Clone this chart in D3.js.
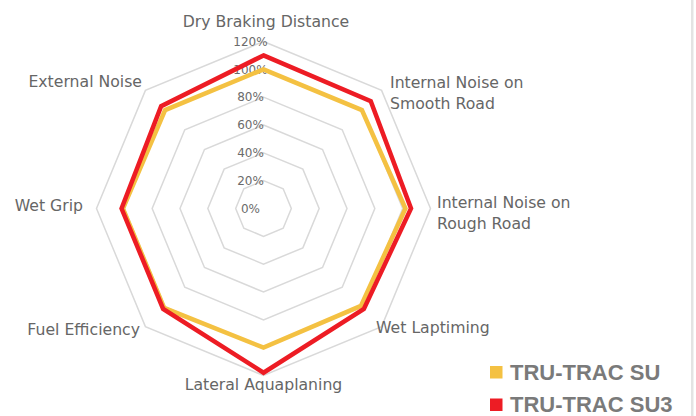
<!DOCTYPE html>
<html>
<head>
<meta charset="utf-8">
<script src="https://cdn.jsdelivr.net/npm/d3@7"></script>
<style>
  html, body { margin: 0; padding: 0; background: #ffffff; }
  svg { display: block; }
</style>
</head>
<body>
<svg id="chart" width="696" height="416"></svg>
<script>
// ---- data ----
const categories = [
  "Dry Braking Distance",
  "Internal Noise on Smooth Road",
  "Internal Noise on Rough Road",
  "Wet Laptiming",
  "Lateral Aquaplaning",
  "Fuel Efficiency",
  "Wet Grip",
  "External Noise"
];
const seriesNames = ["TRU-TRAC SU", "TRU-TRAC SU3"];
const suValues  = [1.00, 1.00, 1.02, 0.99, 1.00, 1.01, 1.01, 1.00];
const su3Values = [1.10, 1.09, 1.06, 1.02, 1.18, 1.02, 1.02, 1.04];
const tickValues = [0, 0.2, 0.4, 0.6, 0.8, 1.0, 1.2];
const tickLabels = ["0%", "20%", "40%", "60%", "80%", "100%", "120%"];
const seriesColors = ["#f4c142", "#ed1c24"];

// label lines (wrapped like the original)
const labelLines = [
  ["Dry Braking Distance"],
  ["Internal Noise on", "Smooth Road"],
  ["Internal Noise on", "Rough Road"],
  ["Wet Laptiming"],
  ["Lateral Aquaplaning"],
  ["Fuel Efficiency"],
  ["Wet Grip"],
  ["External Noise"]
];

// ---- layout ----
const svg = d3.select("#chart");
const cx = 263.5, cy = 208.5;
const R = 167;

const r = d3.scaleLinear().domain([0, 1.2]).range([0, R]);
const angle = d3.scaleLinear().domain([0, categories.length]).range([0, 2 * Math.PI]);

const g = svg.append("g").attr("transform", `translate(${cx},${cy})`);

// grid rings (octagons)
const ringLine = d3.lineRadial()
  .angle((d, i) => angle(i))
  .radius(d => r(d))
  .curve(d3.curveLinearClosed);

g.selectAll("path.ring")
  .data(tickValues.filter(v => v > 0))
  .join("path")
  .attr("class", "ring")
  .attr("d", v => ringLine(categories.map(() => v)))
  .attr("fill", "none")
  .attr("stroke", "#d9d9d9")
  .attr("stroke-width", 1.5);

// tick labels
g.selectAll("text.tick")
  .data(tickValues)
  .join("text")
  .attr("class", "tick")
  .attr("x", -13)
  .attr("y", v => -r(v))
  .attr("dy", "0.35em")
  .attr("text-anchor", "middle")
  .attr("font-family", "DejaVu Sans, sans-serif")
  .attr("font-size", 12)
  .attr("fill", "#6b6b6b")
  .text((v, i) => tickLabels[i]);

// series
const seriesLine = d3.lineRadial()
  .angle((d, i) => angle(i))
  .radius(d => r(d))
  .curve(d3.curveLinearClosed);

[suValues, su3Values].forEach((vals, si) => {
  g.append("path")
    .attr("d", seriesLine(vals))
    .attr("fill", "none")
    .attr("stroke", seriesColors[si])
    .attr("stroke-width", 4.5)
    .attr("stroke-linejoin", "miter");
});

// category labels
const labelPos = [
  { x: 266, y: 27, anchor: "middle" },
  { x: 390, y: 88, anchor: "start" },
  { x: 437, y: 208, anchor: "start" },
  { x: 376, y: 333, anchor: "start" },
  { x: 263.5, y: 390, anchor: "middle" },
  { x: 140, y: 335, anchor: "end" },
  { x: 83, y: 211, anchor: "end" },
  { x: 142, y: 87, anchor: "end" }
];
const labels = svg.append("g")
  .attr("font-family", "DejaVu Sans, sans-serif")
  .attr("font-size", 15.7)
  .attr("fill", "#666666");
labelLines.forEach((lines, i) => {
  const p = labelPos[i];
  const t = labels.append("text")
    .attr("x", p.x).attr("y", p.y)
    .attr("text-anchor", p.anchor);
  lines.forEach((ln, j) => {
    t.append("tspan").attr("x", p.x).attr("dy", j === 0 ? 0 : 21).text(ln);
  });
});

// legend
const legend = svg.append("g");
seriesNames.forEach((name, i) => {
  const y0 = 365 + i * 32.5;
  legend.append("rect")
    .attr("x", 490).attr("y", y0 + 1).attr("width", 12.5).attr("height", 12.5)
    .attr("fill", seriesColors[i]);
  legend.append("text")
    .attr("x", 510).attr("y", y0 + 14.5)
    .attr("font-family", "Liberation Sans, Arial, sans-serif")
    .attr("font-weight", "bold")
    .attr("font-size", 22)
    .attr("fill", "#7a7a7a")
    .text(name);
});

// right border
svg.append("rect")
  .attr("x", 691).attr("y", 0).attr("width", 2.5).attr("height", 416)
  .attr("fill", "#e3e3e3");
</script>
</body>
</html>
